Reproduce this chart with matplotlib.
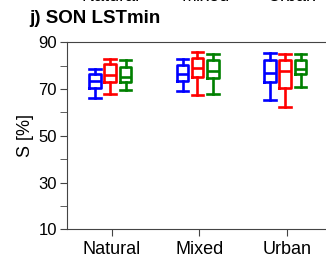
import matplotlib
matplotlib.use("Agg")
import matplotlib.pyplot as plt
from matplotlib.ticker import MultipleLocator

plt.rcParams['font.family'] = ['Liberation Sans', 'DejaVu Sans']

categories = ["Natural", "Mixed", "Urban"]
series = ["blue", "red", "green"]

# whisker low, Q1, median, Q3, whisker high for each class
blue_stats = [(66, 70.6, 73.5, 76.3, 78.5),
              (69, 73.5, 76.5, 80.3, 83),
              (65.5, 73.2, 76.8, 82.4, 85.3)]
red_stats = [(68, 73.2, 76, 80.6, 82.9),
             (67.5, 75.3, 79, 83.4, 86),
             (62.5, 70.3, 77.7, 82.4, 84.9)]
green_stats = [(69.6, 73.2, 75.3, 79.6, 82.4),
               (67.8, 74.6, 77.7, 82.4, 84.9),
               (71, 76.3, 78.6, 82.4, 84.9)]

fig = plt.figure(figsize=(3.26, 2.62), dpi=100)
ax = fig.add_axes([0.2046, 0.1248, 0.8126, 0.7137])

offsets = [-0.19, -0.02, 0.16]
for color, stats_list, off in zip(series, [blue_stats, red_stats, green_stats], offsets):
    stats = []
    for lo, q1, med, q3, hi in stats_list:
        stats.append(dict(whislo=lo, q1=q1, med=med, q3=q3, whishi=hi, fliers=[]))
    pos = [i + 1 + off for i in range(len(categories))]
    style = dict(color=color, linewidth=1.9)
    ax.bxp(stats, positions=pos, widths=0.13, showfliers=False,
           boxprops=style, whiskerprops=style, capprops=style,
           medianprops=style, capwidths=0.13, manage_ticks=False)

ax.set_xlim(0.486, 3.514)
ax.set_ylim(10, 90)
ax.set_xticks([1, 2, 3])
ax.set_xticklabels(categories, fontsize=13)
ax.set_yticks([10, 30, 50, 70, 90])
ax.yaxis.set_minor_locator(MultipleLocator(10))
ax.tick_params(axis='y', labelsize=12, length=5, which='both', color='#444444', pad=2)
ax.tick_params(axis='x', length=5, color='#444444')
ax.set_ylabel("S [%]", fontsize=13, labelpad=3)
for s in ax.spines.values():
    s.set_color('#444444')

fig.text(0.09, 0.93, "j) SON LSTmin", fontsize=13.5, fontweight='bold', va='center')
# labels of the panel above, clipped at the top edge
for x, name in zip([0.34, 0.63, 0.895], categories):
    fig.text(x, 0.996, name, fontsize=13, ha='center', va='baseline')

fig.savefig("out.png", dpi=100)
